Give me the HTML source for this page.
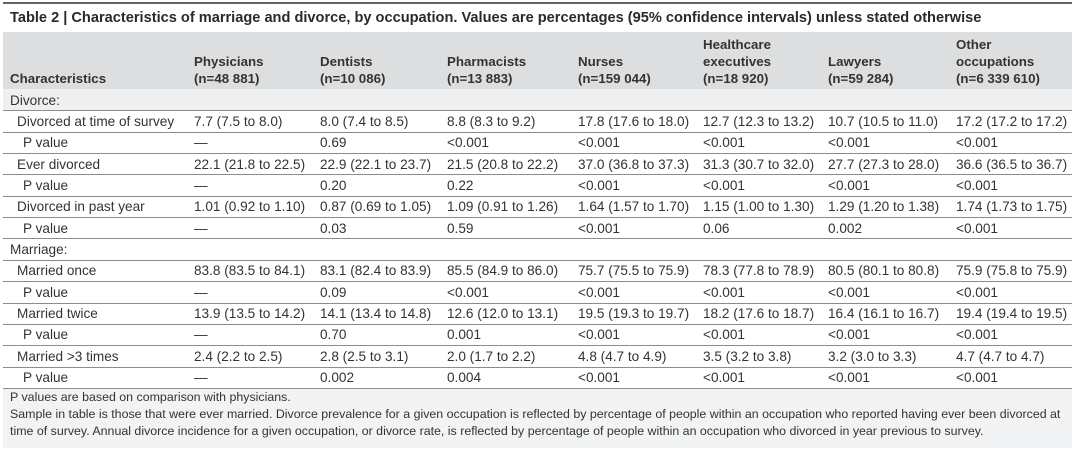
<!DOCTYPE html>
<html><head><meta charset="utf-8">
<style>
body{margin:0;width:1080px;height:451px;background:#fff;position:relative;overflow:hidden;font-family:"Liberation Sans",sans-serif;color:#333}
.a{position:absolute;white-space:nowrap}
.c{font-size:13.6px;line-height:21px}
.h{font-size:13.3px;font-weight:bold;line-height:17px}
.line{position:absolute;left:3px;width:1069px;height:1px;background:#8c8c8c}
.f{font-size:12.4px;line-height:17px;left:10px}
</style></head><body>
<div class="a" style="left:3px;top:2px;width:1069px;height:2px;background:#666"></div>
<div class="a" style="left:10px;top:8px;font-size:14.6px;font-weight:bold;line-height:20px;color:#2a2a2a">Table 2 | Characteristics of marriage and divorce, by occupation. Values are percentages (95% confidence intervals) unless stated otherwise</div>
<div class="a" style="left:3px;top:32px;width:1069px;height:57px;background:#dcdee0"></div>
<div class="a" style="left:3px;top:89px;width:1069px;height:22px;background:#eeeff0"></div>
<div class="a" style="left:3px;top:389px;width:1069px;height:59px;background:#f2f3f4"></div>
<div id="t"></div>
<div class="a f" style="top:389px">P values are based on comparison with physicians.</div>
<div class="a f" style="top:406px">Sample in table is those that were ever married. Divorce prevalence for a given occupation is reflected by percentage of people within an occupation who reported having ever been divorced at</div>
<div class="a f" style="top:423px">time of survey. Annual divorce incidence for a given occupation, or divorce rate, is reflected by percentage of people within an occupation who divorced in year previous to survey.</div>
<script>
const colX=[10,194,320,447,578,703,828,956];
const headers=[["Characteristics"],["Physicians","(n=48 881)"],["Dentists","(n=10 086)"],["Pharmacists","(n=13 883)"],["Nurses","(n=159 044)"],["Healthcare","executives","(n=18 920)"],["Lawyers","(n=59 284)"],["Other","occupations","(n=6 339 610)"]];
const rows=[
["Divorce:"],
["Divorced at time of survey","7.7 (7.5 to 8.0)","8.0 (7.4 to 8.5)","8.8 (8.3 to 9.2)","17.8 (17.6 to 18.0)","12.7 (12.3 to 13.2)","10.7 (10.5 to 11.0)","17.2 (17.2 to 17.2)"],
["P value","—","0.69","<0.001","<0.001","<0.001","<0.001","<0.001"],
["Ever divorced","22.1 (21.8 to 22.5)","22.9 (22.1 to 23.7)","21.5 (20.8 to 22.2)","37.0 (36.8 to 37.3)","31.3 (30.7 to 32.0)","27.7 (27.3 to 28.0)","36.6 (36.5 to 36.7)"],
["P value","—","0.20","0.22","<0.001","<0.001","<0.001","<0.001"],
["Divorced in past year","1.01 (0.92 to 1.10)","0.87 (0.69 to 1.05)","1.09 (0.91 to 1.26)","1.64 (1.57 to 1.70)","1.15 (1.00 to 1.30)","1.29 (1.20 to 1.38)","1.74 (1.73 to 1.75)"],
["P value","—","0.03","0.59","<0.001","0.06","0.002","<0.001"],
["Marriage:"],
["Married once","83.8 (83.5 to 84.1)","83.1 (82.4 to 83.9)","85.5 (84.9 to 86.0)","75.7 (75.5 to 75.9)","78.3 (77.8 to 78.9)","80.5 (80.1 to 80.8)","75.9 (75.8 to 75.9)"],
["P value","—","0.09","<0.001","<0.001","<0.001","<0.001","<0.001"],
["Married twice","13.9 (13.5 to 14.2)","14.1 (13.4 to 14.8)","12.6 (12.0 to 13.1)","19.5 (19.3 to 19.7)","18.2 (17.6 to 18.7)","16.4 (16.1 to 16.7)","19.4 (19.4 to 19.5)"],
["P value","—","0.70","0.001","<0.001","<0.001","<0.001","<0.001"],
["Married >3 times","2.4 (2.2 to 2.5)","2.8 (2.5 to 3.1)","2.0 (1.7 to 2.2)","4.8 (4.7 to 4.9)","3.5 (3.2 to 3.8)","3.2 (3.0 to 3.3)","4.7 (4.7 to 4.7)"],
["P value","—","0.002","0.004","<0.001","<0.001","<0.001","<0.001"]
];
const t=document.getElementById('t');
headers.forEach((h,i)=>{
  const el=document.createElement('div');
  el.className='a h';
  el.style.left=colX[i]+'px';
  el.style.top=(87-17*h.length)+'px';
  el.innerHTML=h.join('<br>');
  
  
  t.appendChild(el);
});
const top0=89,rh=21.35;
rows.forEach((r,i)=>{
  const y=top0+i*rh;
  if(i>0){
    const ln=document.createElement('div');
    ln.className='line';
    ln.style.top=Math.round(y)+'px';
    
    
    t.appendChild(ln);
  }
  r.forEach((v,j)=>{
    const el=document.createElement('div');
    el.className='a c';
    const indent=(j===0&&r.length>1)?(v==='P value'?23:17):colX[j];
    el.style.left=(j===0?indent:colX[j])+'px';
    el.style.top=(y+0.5)+'px';
    el.textContent=v;
    
    
    t.appendChild(el);
  });
});
const bl=document.createElement('div');
bl.className='line';
bl.style.top=Math.round(top0+rows.length*rh)+'px';


t.appendChild(bl);
</script>
</body></html>
